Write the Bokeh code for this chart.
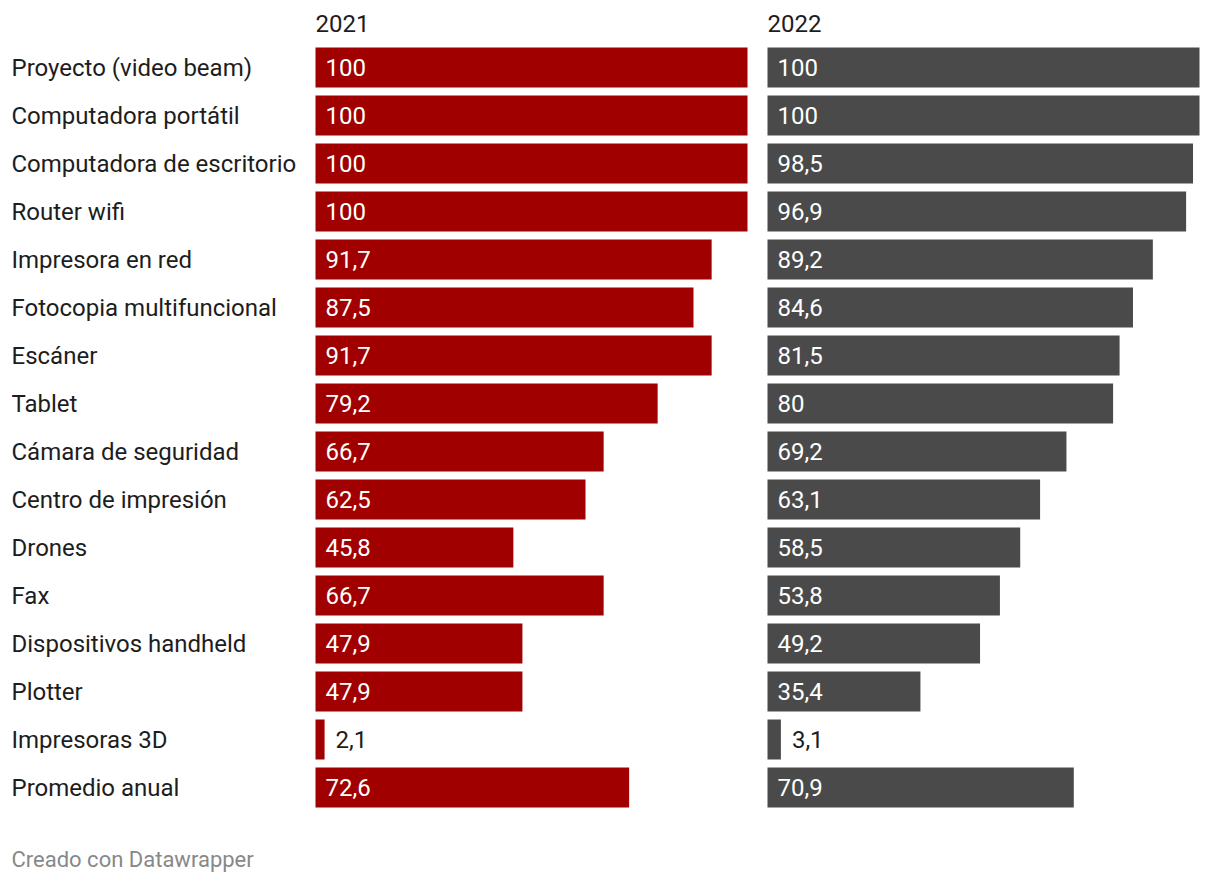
from bokeh.plotting import figure
from bokeh.models import Range1d, ColumnDataSource
from bokeh.core.properties import value
from bokeh.embed import file_html
from bokeh.resources import INLINE

categories = ["Proyecto (video beam)", "Computadora portátil", "Computadora de escritorio",
              "Router wifi", "Impresora en red", "Fotocopia multifuncional", "Escáner", "Tablet",
              "Cámara de seguridad", "Centro de impresión", "Drones", "Fax",
              "Dispositivos handheld", "Plotter", "Impresoras 3D", "Promedio anual"]
values_2021 = [100, 100, 100, 100, 91.7, 87.5, 91.7, 79.2, 66.7, 62.5, 45.8, 66.7, 47.9, 47.9, 2.1, 72.6]
values_2022 = [100, 100, 98.5, 96.9, 89.2, 84.6, 81.5, 80, 69.2, 63.1, 58.5, 53.8, 49.2, 35.4, 3.1, 70.9]
series_names = ["2021", "2022"]
series_colors = ["#a10000", "#4a4a4a"]
footer = "Creado con Datawrapper"

PX = 4.32            # pixels per unit
OFFSET = 452 / PX    # start of second panel, in units
W, H = 1204, 876
FONT = "Roboto"
FS = "24px"
X0, Y0 = 315, 67     # frame-pixel position of first bar start / first row centre

p = figure(width=W, height=H, output_backend="svg", toolbar_location=None,
           x_range=Range1d(-X0 / PX, (W - X0) / PX),
           y_range=Range1d((H - Y0) / 48, -Y0 / 48),
           min_border=0, min_border_left=0, min_border_right=0,
           min_border_top=0, min_border_bottom=0)
p.axis.visible = False
p.grid.visible = False
p.outline_line_color = None
p.background_fill_color = "white"
p.border_fill_color = "white"

rows = list(range(len(categories)))

def fmt(v):
    s = ("%.1f" % v).rstrip("0").rstrip(".")
    return s.replace(".", ",")

for k, (vals, color, name) in enumerate(zip([values_2021, values_2022], series_colors, series_names)):
    off = OFFSET * k
    src = ColumnDataSource(dict(
        y=rows, left=[off] * len(vals), right=[off + v for v in vals]))
    p.hbar(y="y", left="left", right="right", height=40 / 48, source=src,
           fill_color=color, line_color=None)
    inside = [v >= 10 for v in vals]
    lx = [off + 10 / PX if ins else off + v + 11 / PX for v, ins in zip(vals, inside)]
    lc = ["white" if ins else "#1d1d1d" for ins in inside]
    lsrc = ColumnDataSource(dict(x=lx, y=rows, t=[fmt(v) for v in vals], c=lc))
    p.text(x="x", y="y", text="t", text_color="c", source=lsrc,
           text_font=value(FONT), text_font_size=FS, text_baseline="middle",
           text_align="left")
    p.text(x=[off], y=[-0.917], text=[name], text_color="#1d1d1d",
           text_font=value(FONT), text_font_size=FS, text_baseline="middle")

p.text(x=[-304 / PX] * len(categories), y=rows, text=categories, text_color="#1d1d1d",
       text_font=value(FONT), text_font_size=FS, text_baseline="middle")

p.text(x=[-304 / PX], y=[16.5], text=[footer], text_color="#888888",
       text_font=value(FONT), text_font_size="22px", text_baseline="middle")

open("out.html", "w").write(file_html(p, INLINE))
